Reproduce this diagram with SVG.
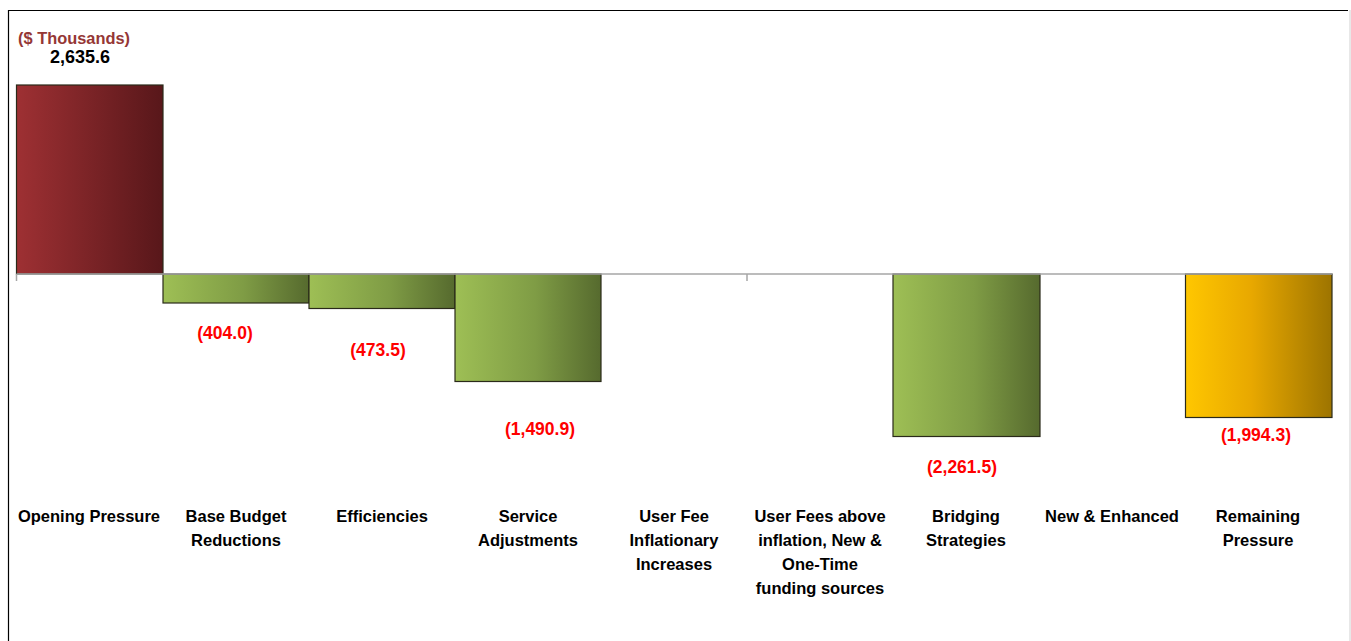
<svg xmlns="http://www.w3.org/2000/svg" width="1351" height="641" viewBox="0 0 1351 641">
<defs>
<linearGradient id="gRed" x1="0" y1="0" x2="1" y2="0"><stop offset="0" stop-color="#9e3033"/><stop offset="1" stop-color="#58171a"/></linearGradient>
<linearGradient id="gGreen" x1="0" y1="0" x2="1" y2="0"><stop offset="0" stop-color="#9ebf55"/><stop offset="0.55" stop-color="#7f9c45"/><stop offset="1" stop-color="#566a2e"/></linearGradient>
<linearGradient id="gGold" x1="0" y1="0" x2="1" y2="0"><stop offset="0" stop-color="#ffc700"/><stop offset="0.45" stop-color="#e8a800"/><stop offset="1" stop-color="#9d7400"/></linearGradient>
<style>
.bar{stroke:#2a2a1a;stroke-width:1.2}
.cat{font-family:"Liberation Sans",Arial,sans-serif;font-weight:bold;font-size:16.5px;fill:#000;text-anchor:middle}
.val{font-family:"Liberation Sans",Arial,sans-serif;font-weight:bold;font-size:17.5px;fill:#ff0000;text-anchor:middle}
.axis{stroke:#a6a6a6;stroke-width:1.5;fill:none}
</style>
</defs>
<rect x="0" y="0" width="1351" height="641" fill="#ffffff"/>
<path d="M8.5,641 V10.5 H1348" fill="none" stroke="#000" stroke-width="1.2"/>
<line x1="1350" y1="10" x2="1350" y2="641" stroke="#e0e0e0" stroke-width="1.5"/>
<text x="18" y="44" font-family="Liberation Sans,Arial,sans-serif" font-weight="bold" font-size="17px" fill="#953735" textLength="112" lengthAdjust="spacingAndGlyphs">($ Thousands)</text>

<g id="bar-opening">
<rect class="bar" x="16.5" y="85" width="146.5" height="189" fill="url(#gRed)"/>
<text x="80" y="63" font-family="Liberation Sans,Arial,sans-serif" font-weight="bold" font-size="18px" fill="#000" text-anchor="middle">2,635.6</text>
<text class="cat" x="89" y="522">Opening Pressure</text>
</g>
<g id="bar-base">
<rect class="bar" x="163" y="274" width="146" height="29" fill="url(#gGreen)"/>
<text class="val" x="225" y="339">(404.0)</text>
<text class="cat" x="236" y="522">Base Budget</text>
<text class="cat" x="236" y="546">Reductions</text>
</g>
<g id="bar-eff">
<rect class="bar" x="309" y="274" width="146" height="34.5" fill="url(#gGreen)"/>
<text class="val" x="378" y="356">(473.5)</text>
<text class="cat" x="382" y="522">Efficiencies</text>
</g>
<g id="bar-service">
<rect class="bar" x="455" y="274" width="146" height="107.5" fill="url(#gGreen)"/>
<text class="val" x="540" y="435">(1,490.9)</text>
<text class="cat" x="528" y="522">Service</text>
<text class="cat" x="528" y="546">Adjustments</text>
</g>
<g id="cat-userfee">
<text class="cat" x="674" y="522">User Fee</text>
<text class="cat" x="674" y="546">Inflationary</text>
<text class="cat" x="674" y="570">Increases</text>
</g>
<g id="cat-userfees-above">
<text class="cat" x="820" y="522">User Fees above</text>
<text class="cat" x="820" y="546">inflation, New &amp;</text>
<text class="cat" x="820" y="570">One-Time</text>
<text class="cat" x="820" y="594">funding sources</text>
</g>
<g id="bar-bridging">
<rect class="bar" x="893" y="274" width="147" height="162.5" fill="url(#gGreen)"/>
<text class="val" x="962" y="473">(2,261.5)</text>
<text class="cat" x="966" y="522">Bridging</text>
<text class="cat" x="966" y="546">Strategies</text>
</g>
<g id="cat-new">
<text class="cat" x="1112" y="522">New &amp; Enhanced</text>
</g>
<g id="bar-remaining">
<rect class="bar" x="1185.5" y="274" width="146.5" height="143.5" fill="url(#gGold)" stroke="#3a2c00"/>
<text class="val" x="1256" y="441">(1,994.3)</text>
<text class="cat" x="1258" y="522">Remaining</text>
<text class="cat" x="1258" y="546">Pressure</text>
</g>
<g id="connectors">
<path class="axis" d="M16.5,274 H1332 M16.5,274 V281 M747,274 V281"/>
</g>
</svg>
